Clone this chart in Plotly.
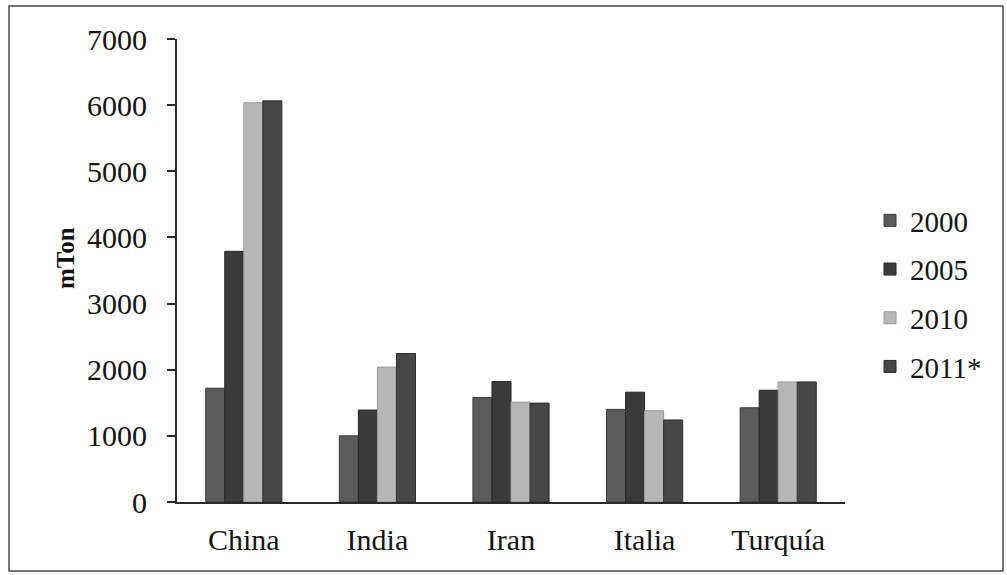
import plotly.graph_objects as go

# Production by country (mTon)
countries = ["China", "India", "Iran", "Italia", "Turquía"]
years = ["2000", "2005", "2010", "2011*"]
v2000 = [1720, 1000, 1580, 1400, 1425]
v2005 = [3790, 1390, 1820, 1660, 1690]
v2010 = [6035, 2040, 1510, 1380, 1815]
v2011 = [6065, 2245, 1495, 1240, 1815]
y_ticks = [0, 1000, 2000, 3000, 4000, 5000, 6000, 7000]

series = [v2000, v2005, v2010, v2011]
colors = ["#5b5b5b", "#3a3a3a", "#b7b7b7", "#474747"]
edges = ["#3c3c3c", "#262626", "#9a9a9a", "#2e2e2e"]

FONT = "Liberation Serif"

fig = go.Figure()
for name, vals, col, edge in zip(years, series, colors, edges):
    fig.add_trace(go.Bar(
        x=countries, y=vals, name=name, legendgroup=name,
        marker=dict(color=col, line=dict(color=edge, width=1)),
    ))

W, H = 1007, 575
L, R, T, B = 177, 162, 39, 73
pw, ph = W - L - R, H - T - B

def px(x):
    return (x - L) / pw

def py(y):
    return (H - B - y) / ph

fig.update_layout(
    width=W, height=H,
    margin=dict(l=L, r=R, t=T, b=B, autoexpand=False),
    paper_bgcolor="white", plot_bgcolor="white",
    barmode="group", bargap=0.43, bargroupgap=0,
    font=dict(family=FONT, color="#141414", size=30),
    showlegend=True,
    legend=dict(
        x=px(870), y=py(195), xanchor="left", yanchor="top",
        font=dict(family=FONT, size=29, color="#141414"),
        tracegroupgap=8, traceorder="grouped",
        bgcolor="rgba(0,0,0,0)",
    ),
    xaxis=dict(
        showline=True, linecolor="#2a2a2a", linewidth=2,
        ticks="", showgrid=False, zeroline=False,
        tickfont=dict(family=FONT, size=30, color="#141414"),
        ticklabelstandoff=10,
    ),
    yaxis=dict(
        range=[0, 7000], tickvals=y_ticks,
        showline=True, linecolor="#2a2a2a", linewidth=2,
        ticks="outside", ticklen=8, tickwidth=2, tickcolor="#2a2a2a",
        showgrid=False, zeroline=False,
        tickfont=dict(family=FONT, size=30, color="#141414"),
        ticklabelstandoff=14,
    ),
    annotations=[dict(
        text="<b>mTon</b>", textangle=-90,
        xref="paper", yref="paper", x=px(65), y=py(258),
        xanchor="center", yanchor="middle", showarrow=False,
        font=dict(family=FONT, size=25, color="#141414"),
    )],
    shapes=[dict(
        type="rect", xref="paper", yref="paper",
        x0=px(9), x1=px(1003), y0=py(571), y1=py(6),
        line=dict(color="#4a4a4a", width=1.5),
    )],
)

fig.write_html("out.html")
